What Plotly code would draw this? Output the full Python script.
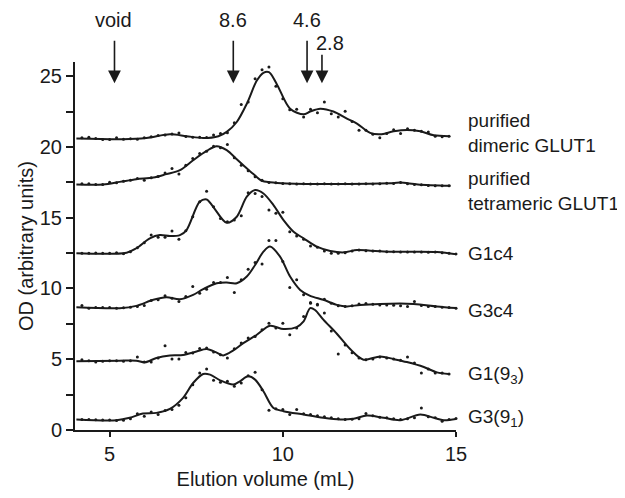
import plotly.graph_objects as go

# ---------------- data ----------------
elution_ml = [4.2, 4.4, 4.6, 4.8, 5.0, 5.2, 5.4, 5.6, 5.8, 6.0,
              6.2, 6.4, 6.6, 6.8, 7.0, 7.2, 7.4, 7.6, 7.8, 8.0,
              8.2, 8.4, 8.6, 8.8, 9.0, 9.2, 9.4, 9.6, 9.8, 10.0,
              10.2, 10.4, 10.6, 10.8, 11.0, 11.2, 11.4, 11.6, 11.8, 12.0,
              12.2, 12.4, 12.6, 12.8, 13.0, 13.2, 13.4, 13.6, 13.8, 14.0,
              14.2, 14.4, 14.6, 14.8, 15.0]

dimeric_od = [20.64, 20.68, 20.59, 20.52, 20.52, 20.64, 20.54, 20.57, 20.54, 20.64,
              20.71, 20.80, 20.85, 20.92, 20.99, 20.73, 20.68, 20.68, 20.66, 20.85,
              20.94, 21.01, 21.70, 22.99, 23.17, 24.82, 25.45, 25.64, 24.28, 23.40,
              22.63, 22.66, 22.12, 22.66, 22.42, 23.17, 22.35, 22.12, 22.52, 21.79,
              21.18, 21.18, 20.90, 20.64, 20.94, 21.22, 20.94, 21.29, 21.18, 21.11,
              21.06, 20.75, 20.71, 20.75]
dimeric_fit_ml = [4.04, 5.39, 6.06, 6.74, 7.22, 7.70, 8.14, 8.38, 8.67, 8.96, 9.25, 9.44, 9.60, 9.82,
                  10.21, 10.60, 10.79, 11.08, 11.46, 11.85, 12.14, 12.52, 12.81, 13.20, 13.58, 13.97,
                  14.36, 14.79]
dimeric_fit_od = [20.59, 20.54, 20.63, 20.89, 20.76, 20.63, 20.76, 21.06, 21.76, 23.05, 24.69, 25.24,
                  25.28, 24.47, 22.70, 22.30, 22.50, 22.70, 22.50, 22.00, 21.65, 20.99, 20.89, 21.10,
                  21.20, 21.10, 20.82, 20.76]

tetrameric_od = [17.40, 17.40, 17.35, 17.35, 17.51, 17.47, 17.58, 17.65, 17.77, 17.65,
                 17.82, 17.91, 18.15, 18.48, 18.08, 18.71, 19.18, 19.53, 19.70, 20.05,
                 19.95, 20.17, 19.23, 18.71, 18.31, 17.89, 17.65, 17.49, 17.47, 17.42,
                 17.40, 17.38, 17.40, 17.38, 17.38, 17.40, 17.38, 17.38, 17.40, 17.38,
                 17.38, 17.40, 17.38, 17.40, 17.44, 17.42, 17.49, 17.40, 17.35, 17.33,
                 17.28, 17.25, 17.25, 17.25]
tetrameric_fit_ml = [4.04, 4.81, 5.29, 5.77, 6.26, 6.64, 7.03, 7.41, 7.80, 8.09, 8.38, 8.67, 8.86,
                     9.15, 9.39, 9.63, 10.11, 12.50, 13.10, 13.39, 13.90, 14.84]
tetrameric_fit_od = [17.35, 17.35, 17.53, 17.72, 17.84, 18.08, 18.36, 19.06, 19.72, 20.05, 19.77,
                     19.13, 18.71, 18.08, 17.61, 17.50, 17.42, 17.40, 17.44, 17.48, 17.35, 17.25]

g1c4_od = [12.49, 12.49, 12.51, 12.49, 12.49, 12.53, 12.46, 12.60, 12.87, 13.23,
           13.77, 13.61, 13.62, 14.06, 13.47, 14.08, 15.07, 16.12, 16.87, 15.77,
           14.95, 14.71, 14.83, 15.14, 16.77, 16.71, 16.50, 15.54, 15.31, 15.38,
           14.01, 13.70, 13.47, 13.00, 12.91, 12.65, 12.49, 12.49, 12.53, 12.65,
           12.72, 12.67, 12.65, 12.65, 12.60, 12.60, 12.58, 12.58, 12.58, 12.58,
           12.55, 12.58, 12.53, 12.49, 12.44]
g1c4_fit_ml = [4.04, 5.49, 5.77, 6.16, 6.45, 6.74, 7.03, 7.22, 7.60, 7.80, 7.99, 8.38, 8.67, 8.96,
               9.20, 9.44, 9.73, 10.02, 10.31, 10.60, 10.98, 11.37, 11.76, 12.14, 12.53, 13.10,
               14.45, 15.03]
g1c4_fit_od = [12.49, 12.53, 12.84, 13.54, 13.77, 13.70, 13.77, 14.13, 16.12, 16.29, 15.77, 14.64,
               15.07, 16.48, 16.95, 16.71, 15.89, 14.83, 14.01, 13.54, 12.95, 12.65, 12.55, 12.72,
               12.67, 12.60, 12.58, 12.41]

g3c4_od = [8.80, 8.61, 8.66, 8.66, 8.66, 8.61, 8.63, 8.68, 8.73, 8.80,
           9.15, 9.20, 9.48, 9.31, 9.08, 9.43, 10.14, 9.67, 9.95, 10.42,
           10.42, 10.77, 9.71, 10.61, 11.36, 11.83, 11.73, 13.38, 13.38, 11.90,
           10.07, 10.61, 9.55, 9.01, 8.89, 9.24, 8.96, 8.77, 8.73, 8.77,
           8.91, 8.94, 8.89, 8.84, 8.84, 8.82, 8.77, 8.73, 9.08, 8.80,
           8.73, 8.73, 8.68, 8.66, 8.61]
g3c4_fit_ml = [4.04, 5.29, 5.77, 6.26, 6.64, 7.03, 7.41, 7.70, 8.09, 8.38, 8.67, 8.96, 9.20, 9.44,
               9.63, 9.92, 10.21, 10.50, 10.79, 11.17, 11.56, 11.85, 12.23, 12.81, 13.78, 14.45,
               15.03]
g3c4_fit_od = [8.68, 8.61, 8.77, 9.20, 9.38, 9.24, 9.55, 9.95, 10.37, 10.42, 10.37, 10.84, 11.66,
               12.60, 12.96, 12.25, 10.84, 9.90, 9.48, 9.20, 8.84, 8.73, 8.84, 8.91, 8.91, 8.73, 8.61]

g1_93_od = [4.97, 4.90, 4.80, 4.85, 4.90, 4.90, 4.85, 4.90, 5.16, 4.80,
            4.80, 5.09, 5.96, 5.02, 5.02, 5.48, 5.44, 5.75, 5.79, 5.51,
            5.32, 5.09, 5.74, 6.14, 6.50, 6.61, 7.08, 7.55, 7.20, 7.55,
            6.73, 7.20, 8.02, 8.96, 8.84, 8.26, 7.00, 5.37, 6.00, 5.45,
            5.09, 4.97, 5.01, 5.16, 5.09, 5.01, 4.92, 5.16, 4.73, 4.03,
            4.31, 4.03, 4.03, 3.96]
g1_93_fit_ml = [4.04, 5.29, 5.77, 6.02, 6.35, 6.74, 7.12, 7.51, 7.80, 8.09, 8.28, 8.57, 8.86, 9.25,
                9.63, 10.02, 10.40, 10.60, 10.79, 10.93, 11.17, 11.56, 11.95, 12.33, 12.81, 13.20,
                13.58, 14.07, 14.45, 14.79]
g1_93_fit_od = [4.85, 4.90, 4.90, 4.78, 5.09, 5.27, 5.30, 5.55, 5.72, 5.47, 5.27, 5.62, 6.14, 6.73,
                7.36, 7.13, 7.27, 7.67, 8.61, 8.48, 7.80, 6.80, 5.70, 4.97, 5.20, 5.01, 4.80, 4.45,
                4.07, 3.96]

g3_91_od = [0.74, 0.74, 0.72, 0.70, 0.70, 0.67, 0.69, 0.79, 1.14, 0.97,
            1.28, 1.09, 1.37, 1.44, 1.75, 2.27, 3.20, 4.03, 4.31, 3.51,
            3.37, 3.44, 3.09, 3.32, 3.84, 4.08, 2.85, 1.40, 1.51, 1.44,
            1.09, 1.44, 1.14, 1.10, 1.00, 0.93, 0.86, 0.80, 0.74, 0.76,
            0.79, 1.16, 1.00, 0.90, 0.86, 0.79, 0.74, 0.79, 0.86, 1.56,
            0.93, 0.86, 0.62, 0.74, 0.81]
g3_91_fit_ml = [4.04, 5.20, 5.58, 5.96, 6.35, 6.74, 7.12, 7.41, 7.70, 7.90, 8.19, 8.57, 8.76, 9.00,
                9.20, 9.44, 9.73, 10.02, 10.60, 11.17, 11.66, 12.04, 12.43, 12.91, 13.39, 13.97,
                14.36, 14.65, 15.03]
g3_91_fit_od = [0.74, 0.69, 0.86, 1.16, 1.21, 1.49, 2.27, 3.32, 3.96, 3.91, 3.51, 3.21, 3.44, 3.79,
                3.56, 2.74, 1.56, 1.33, 1.09, 0.86, 0.74, 0.79, 1.02, 0.86, 0.69, 1.09, 0.86, 0.69,
                0.79]

series_names = ["purified<br>dimeric GLUT1", "purified<br>tetrameric GLUT1", "G1c4", "G3c4",
                "G1(9<sub>3</sub>)", "G3(9<sub>1</sub>)"]
series_dots = [dimeric_od, tetrameric_od, g1c4_od, g3c4_od, g1_93_od, g3_91_od]
series_fit_ml = [dimeric_fit_ml, tetrameric_fit_ml, g1c4_fit_ml, g3c4_fit_ml, g1_93_fit_ml, g3_91_fit_ml]
series_fit_od = [dimeric_fit_od, tetrameric_fit_od, g1c4_fit_od, g3c4_fit_od, g1_93_fit_od, g3_91_fit_od]

marker_labels = ["void", "8.6", "4.6", "2.8"]
marker_ml = [5.14, 8.57, 10.70, 11.13]

x_ticks = [5, 10, 15]
y_ticks = [0, 5, 10, 15, 20, 25]

# ---------------- layout / styling ----------------
FONT = "Liberation Sans, Arial, Helvetica, sans-serif"
INK = "#1a1a1a"
label_y = [20.95, 16.9, 12.49, 8.44, 3.92, 0.88]
marker_label_y = [1.114, 1.114, 1.114, 1.052]
marker_arrow_len = [44, 44, 44, 30]
label_x = [5.12, 8.57, 10.70, 11.37]

fig = go.Figure()
for name, dots, fx, fy in zip(series_names, series_dots, series_fit_ml, series_fit_od):
    fig.add_trace(go.Scatter(x=elution_ml[:len(dots)], y=dots, mode="markers",
                             marker=dict(size=3, color=INK), showlegend=False,
                             cliponaxis=False, hoverinfo="skip"))
    fig.add_trace(go.Scatter(x=fx, y=fy, mode="lines",
                             line=dict(color=INK, width=2, shape="spline", smoothing=0.9),
                             showlegend=False, cliponaxis=False, name=name))

annotations = []
for name, yv in zip(series_names, label_y):
    annotations.append(dict(x=1.026, xref="paper", y=yv, yref="y", text=name,
                            showarrow=False, xanchor="left", yanchor="middle", align="left",
                            font=dict(family=FONT, size=19, color=INK)))
for xm, al in zip(marker_ml, marker_arrow_len):
    annotations.append(dict(x=xm, xref="x", y=24.49, yref="y", text="", showarrow=True,
                            ax=0, ay=-al, arrowhead=2, arrowsize=1.6, arrowwidth=1.6,
                            arrowcolor=INK, standoff=0, startstandoff=0))
for lab, xm, ly in zip(marker_labels, label_x, marker_label_y):
    annotations.append(dict(x=xm, xref="x", y=ly, yref="paper", text=lab, showarrow=False,
                            xanchor="center", yanchor="middle",
                            font=dict(family=FONT, size=20, color=INK)))

fig.update_layout(
    width=625, height=498,
    # the page body adds an 8px offset; margins compensate for it
    margin=dict(l=67, r=177, t=54, b=76),
    paper_bgcolor="white", plot_bgcolor="white",
    font=dict(family=FONT, size=20, color=INK),
    annotations=annotations,
    xaxis=dict(range=[4, 15], tickvals=x_ticks, ticks="outside", ticklen=5, tickwidth=2,
               tickcolor=INK, showline=True, linewidth=2, linecolor=INK, showgrid=False,
               zeroline=False, tickfont=dict(family=FONT, size=20, color=INK),
               title=dict(text="Elution volume (mL)", standoff=8,
                          font=dict(family=FONT, size=20, color=INK))),
    yaxis=dict(range=[0, 26], tickvals=y_ticks, ticks="outside", ticklen=7, tickwidth=2,
               tickcolor=INK, showline=True, linewidth=2, linecolor=INK, showgrid=False,
               zeroline=False, tickfont=dict(family=FONT, size=20, color=INK),
               minor=dict(dtick=2.5, tick0=0, ticks="outside", ticklen=7, tickwidth=2,
                          tickcolor=INK, showgrid=False),
               title=dict(text="OD (arbitrary units)", standoff=1,
                          font=dict(family=FONT, size=20, color=INK))),
)

fig.write_html("out.html")
